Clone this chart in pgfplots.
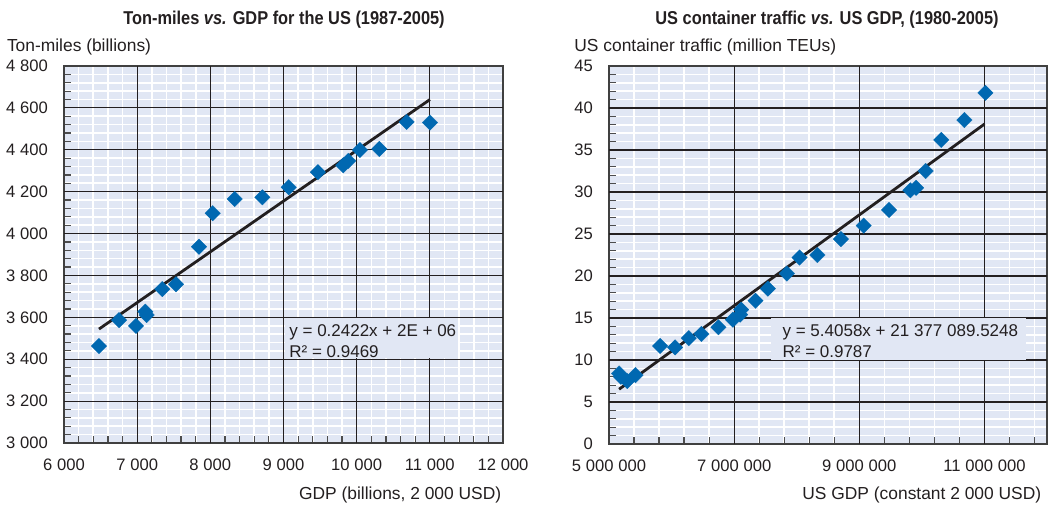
\documentclass[border=0pt]{standalone}
\usepackage{pgfplots}
\pgfplotsset{compat=1.18}
\usepackage{fontspec}
\setmainfont{Liberation Sans}
\newfontfamily\titlefont{Liberation Sans}[FakeStretch=0.88]
\definecolor{bg}{RGB}{225,231,244}
\definecolor{mk}{RGB}{0,104,177}
\definecolor{tl}{RGB}{35,31,32}

\pgfplotsset{
  mystyle/.style={
    scale only axis,
    axis background/.style={fill=bg},
    grid=minor,
    minor grid style={draw=white, line width=0.8pt},
    axis line style={draw=black!75, line width=0.9pt},
    tick align=inside,
    xtick pos=left, ytick pos=left,
    major tick length=0pt,
    minor tick length=3.5pt,
    minor tick style={draw=black!70, line width=0.6pt},
    tick label style={font=\fontsize{8.3}{10}\selectfont, text=tl},
    yticklabel style={xshift=-4.5pt},
    xticklabel style={yshift=-4.5pt},
    /pgf/number format/assume math mode=true,
    /pgf/number format/fixed,
    /pgf/number format/1000 sep={\hspace{2.4pt}},
    scaled x ticks=false, scaled y ticks=false,
    extra tick style={grid=major, major grid style={draw=tl, line width=0.55pt},
      major tick length=0pt},
    extra x tick labels={}, extra y tick labels={},
    clip=true,
  },
  diam/.style={only marks, mark=square*, mark size=2.75pt,
    mark options={rotate=45, fill=mk, draw=mk, line width=0.1pt}},
}

\begin{document}
\begin{tikzpicture}
\path[use as bounding box] (0,0) rectangle (526.5pt,252.5pt);

% ---------- Left chart ----------
\begin{axis}[mystyle,
  at={(32pt,31pt)}, anchor=south west,
  width=219.5pt, height=188.5pt,
  xmin=6000, xmax=12000, ymin=3000, ymax=4800,
  xtick={6000,7000,...,12000}, ytick={3000,3200,...,4800},
  minor x tick num=4, minor y tick num=4,
  extra x ticks={7000,8000,9000,10000,11000},
  extra y ticks={3200,3400,3600,3800,4000,4200,4400,4600},
]
\addplot[tl, line width=1.4pt] coordinates {(6478,3544) (11002,4640)};
\addplot[diam] coordinates {
(6478,3463) (6752,3587) (6984,3559) (7111,3627) (7130,3611) (7343,3735)
(7531,3758) (7845,3937) (8032,4097) (8333,4165) (8711,4173) (9071,4221)
(9471,4293) (9817,4326) (9886,4347) (10045,4399) (10309,4404) (10683,4533)
(11002,4530)};
\fill[bg] (axis cs:9020,3404) rectangle (axis cs:11385,3596);
\node[anchor=north west, align=left, inner sep=0pt, text=tl,
  font=\fontsize{8.5}{10.8}\selectfont] at (axis cs:9075,3568)
  {y = 0.2422x + 2E + 06\\R² = 0.9469};
\end{axis}

% ---------- Right chart ----------
\begin{axis}[mystyle,
  at={(304.5pt,30.5pt)}, anchor=south west,
  width=219pt, height=189pt,
  xmin=5000000, xmax=12000000, ymin=0, ymax=45,
  xtick={5000000,7000000,9000000,11000000},
  minor xtick={5400000,5800000,6200000,6600000,7400000,7800000,8200000,8600000,9400000,9800000,10200000,10600000,11400000,11800000},
  ytick={0,5,...,45}, minor y tick num=4,
  extra x ticks={7000000,9000000,11000000},
  extra y ticks={5,10,15,20,25,30,35,40},
]
\addplot[tl, line width=1.4pt] coordinates {(5161000,6.52) (11003000,38.10)};
\addplot[diam] coordinates {
(5161000,8.4) (5190000,8.0) (5291000,7.5) (5424000,8.2) (5816000,11.67)
(6056000,11.5) (6275000,12.6) (6477000,13.1) (6749000,13.9) (6981000,14.8)
(7096000,15.4) (7112000,16.0) (7341000,17.06) (7539000,18.5) (7843000,20.3)
(8045000,22.2) (8330000,22.5) (8707000,24.4) (9070000,26.0) (9475000,27.86)
(9816000,30.2) (9907000,30.5) (10060000,32.5) (10310000,36.2) (10680000,38.57)
(11016000,41.8)};
\fill[bg] (axis cs:7590000,10.05) rectangle (axis cs:11660000,14.95);
\node[anchor=north west, align=left, inner sep=0pt, text=tl,
  font=\fontsize{8.5}{10.8}\selectfont] at (axis cs:7768000,14.29)
  {y = 5.4058x + 21\hspace{2.4pt}377\hspace{2.4pt}089.5248\\R² = 0.9787};
\end{axis}

% ---------- Titles and labels ----------
\node[anchor=base, inner sep=0pt, text=tl] at (142pt,240.25pt)
  {\titlefont\bfseries\fontsize{9.3}{11}\selectfont Ton-miles \textit{vs.} GDP for the US (1987-2005)};
\node[anchor=base, inner sep=0pt, text=tl] at (413.5pt,240.25pt)
  {\titlefont\bfseries\fontsize{9.3}{11}\selectfont US container traffic \textit{vs.} US GDP, (1980-2005)};

\node[anchor=base west, inner sep=0pt, text=tl, font=\fontsize{8.7}{10}\selectfont]
  at (3.3pt,227pt) {Ton-miles (billions)};
\node[anchor=base west, inner sep=0pt, text=tl, font=\fontsize{8.7}{10}\selectfont]
  at (287pt,227pt) {US container traffic (million TEUs)};

\node[anchor=base east, inner sep=0pt, text=tl, font=\fontsize{8.7}{10}\selectfont]
  at (250.8pt,3pt) {GDP (billions, 2\hspace{2.4pt}000 USD)};
\node[anchor=base east, inner sep=0pt, text=tl, font=\fontsize{8.7}{10}\selectfont]
  at (520.8pt,3pt) {US GDP (constant 2\hspace{2.4pt}000 USD)};
\end{tikzpicture}
\end{document}
